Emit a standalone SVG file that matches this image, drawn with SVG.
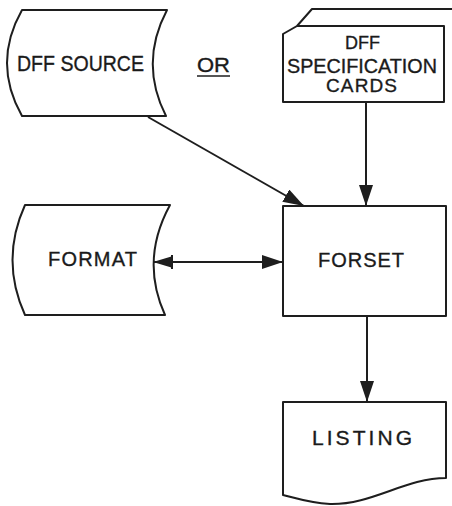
<svg xmlns="http://www.w3.org/2000/svg" width="452" height="506" viewBox="0 0 452 506">
<style>
.shape{fill:none;stroke:#1e1e1e;stroke-width:2;stroke-linejoin:round}
.conn{fill:none;stroke:#1e1e1e;stroke-width:2}
.lbl{font-family:"Liberation Sans","DejaVu Sans",sans-serif;fill:#1a1a1a;stroke:#1a1a1a;stroke-width:0.35}
</style>
<defs>
<marker id="arr" markerUnits="userSpaceOnUse" markerWidth="24" markerHeight="16" refX="21" refY="7" orient="auto-start-reverse">
<path d="M0,0 L21,7 L0,14 Z" fill="#1e1e1e"/>
</marker>
<marker id="arrbar" markerUnits="userSpaceOnUse" markerWidth="24" markerHeight="16" refX="20" refY="7" orient="auto-start-reverse">
<path d="M0,1 L20,7 L0,13 Z" fill="#1e1e1e"/>
<rect x="-1" y="0" width="3" height="14" fill="#1e1e1e"/>
</marker>
</defs>
<rect width="452" height="506" fill="#ffffff"/>
<g id="dff-source">
<path class="shape" d="M22,10 L167,10 Q139,63 166,116 L22,116 Q-8,63 22,10 Z"/>
<text class="lbl" x="17" y="71" font-size="22" textLength="127" lengthAdjust="spacingAndGlyphs">DFF SOURCE</text>
</g>
<g id="or-label">
<text class="lbl" x="197" y="72" font-size="20" textLength="33" lengthAdjust="spacingAndGlyphs">OR</text>
<line x1="197" y1="76" x2="230" y2="76" stroke="#1e1e1e" stroke-width="1.5"/>
</g>
<g id="dff-cards">
<path class="shape" d="M297,26 L312,9 L452,9"/>
<path class="shape" d="M283,34 L297,26 L444,26 L444,102 L283,102 Z"/>
<text class="lbl" x="345" y="49" font-size="19" textLength="35" lengthAdjust="spacingAndGlyphs">DFF</text>
<text class="lbl" x="287" y="73" font-size="20" textLength="150" lengthAdjust="spacingAndGlyphs">SPECIFICATION</text>
<text class="lbl" x="326" y="92" font-size="19" textLength="71" lengthAdjust="spacing">CARDS</text>
</g>
<g id="format">
<path class="shape" d="M25,205 L170,205 Q140,260 165,315 L25,315 Q0,260 25,205 Z"/>
<text class="lbl" x="48" y="266" font-size="20" textLength="89" lengthAdjust="spacing">FORMAT</text>
</g>
<g id="forset">
<rect class="shape" x="283" y="206" width="163" height="110"/>
<text class="lbl" x="318" y="267" font-size="20" textLength="86" lengthAdjust="spacing">FORSET</text>
</g>
<g id="listing">
<path class="shape" d="M283,402 L446,402 L446,478 C405,478 372,505 330,504 C310,503 295,498 283,495 Z"/>
<text class="lbl" x="312" y="445" font-size="21" textLength="100" lengthAdjust="spacing">LISTING</text>
</g>
<g id="connectors">
<line class="conn" x1="148" y1="117" x2="304" y2="206" marker-end="url(#arr)"/>
<line class="conn" x1="366" y1="102" x2="366" y2="206" marker-end="url(#arr)"/>
<line class="conn" x1="174" y1="262" x2="283" y2="262" marker-end="url(#arr)"/>
<line class="conn" x1="153" y1="262" x2="174" y2="262" marker-start="url(#arrbar)"/>
<line class="conn" x1="367" y1="316" x2="367" y2="402" marker-end="url(#arr)"/>
</g>
</svg>
